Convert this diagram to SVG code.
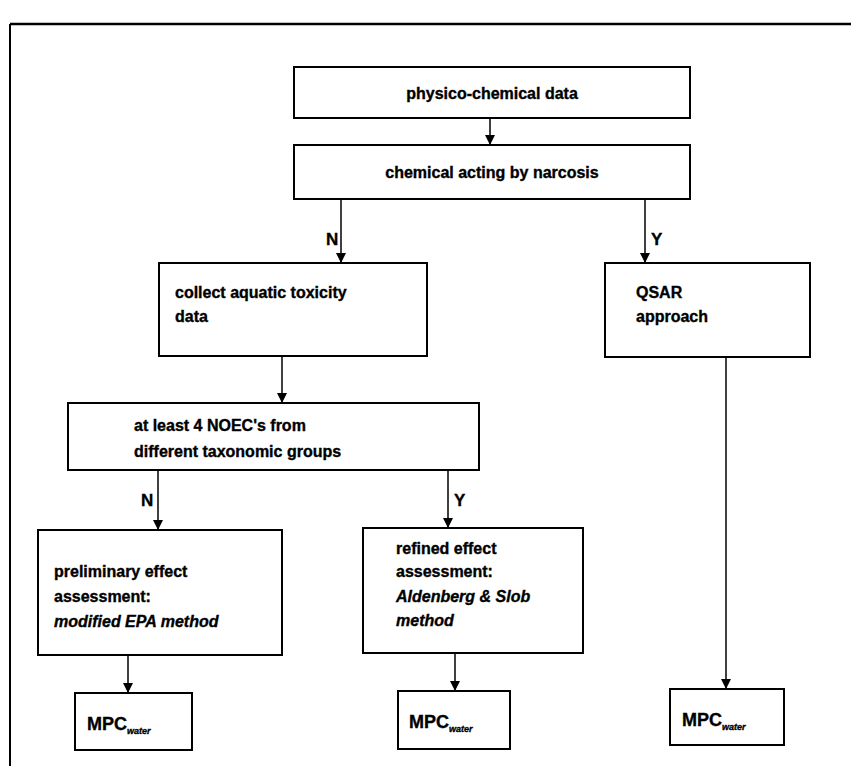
<svg xmlns="http://www.w3.org/2000/svg" width="851" height="766" viewBox="0 0 851 766">
<defs>
<marker id="ah" markerWidth="10" markerHeight="10" refX="10" refY="5" orient="auto" markerUnits="userSpaceOnUse" viewBox="0 0 10 10">
<path d="M0,0 L10,5 L0,10 Z" fill="#000"/>
</marker>
<style>
.box{fill:#fff;stroke:#000;stroke-width:2}
.t{font-family:"Liberation Sans",Arial,sans-serif;font-weight:bold;font-size:16px;fill:#000;stroke:#000;stroke-width:0.35}
.i{font-style:italic}
.c{text-anchor:middle}
.m{font-size:18px}
.sub{font-size:9px;font-style:italic}
.ln{stroke:#000;stroke-width:1.5;fill:none}
.lbl{font-family:"Liberation Sans",Arial,sans-serif;font-weight:bold;font-size:17px;fill:#000;stroke:#000;stroke-width:0.35}
</style>
</defs>
<rect width="851" height="766" fill="#fff"/>
<g id="frame">
<line x1="10" y1="24" x2="851" y2="24" stroke="#000" stroke-width="2.5"/>
<line x1="10" y1="24" x2="10" y2="766" stroke="#000" stroke-width="2"/>
</g>
<g id="connectors">
<line class="ln" x1="490" y1="118" x2="490" y2="145" marker-end="url(#ah)"/>
<line class="ln" x1="341" y1="199" x2="341" y2="263" marker-end="url(#ah)"/>
<line class="ln" x1="645" y1="199" x2="645" y2="263" marker-end="url(#ah)"/>
<line class="ln" x1="282" y1="356" x2="282" y2="403" marker-end="url(#ah)"/>
<line class="ln" x1="158" y1="470" x2="158" y2="530" marker-end="url(#ah)"/>
<line class="ln" x1="448" y1="470" x2="448" y2="528" marker-end="url(#ah)"/>
<line class="ln" x1="128" y1="655" x2="128" y2="693" marker-end="url(#ah)"/>
<line class="ln" x1="455" y1="653" x2="455" y2="691" marker-end="url(#ah)"/>
<line class="ln" x1="726" y1="357" x2="726" y2="689" marker-end="url(#ah)"/>
<text class="lbl" x="326" y="245">N</text>
<text class="lbl" x="651" y="245">Y</text>
<text class="lbl" x="141" y="506">N</text>
<text class="lbl" x="454" y="506">Y</text>
</g>
<g id="n1">
<rect class="box" x="294" y="67" width="396" height="51"/>
<text class="t c" x="492" y="99">physico-chemical data</text>
</g>
<g id="n2">
<rect class="box" x="294" y="145" width="396" height="54"/>
<text class="t c" x="492" y="178">chemical acting by narcosis</text>
</g>
<g id="n3">
<rect class="box" x="159" y="263" width="268" height="93"/>
<text class="t" x="175" y="298">collect aquatic toxicity</text>
<text class="t" x="175" y="322">data</text>
</g>
<g id="n4">
<rect class="box" x="605" y="263" width="205" height="94"/>
<text class="t" x="636" y="298">QSAR</text>
<text class="t" x="636" y="322">approach</text>
</g>
<g id="n5">
<rect class="box" x="68" y="403" width="411" height="67"/>
<text class="t" x="134" y="431">at least 4 NOEC's from</text>
<text class="t" x="134" y="457">different taxonomic groups</text>
</g>
<g id="n6">
<rect class="box" x="38" y="530" width="244" height="125"/>
<text class="t" x="54" y="577">preliminary effect</text>
<text class="t" x="54" y="602">assessment:</text>
<text class="t i" x="54" y="627">modified EPA method</text>
</g>
<g id="n7">
<rect class="box" x="363" y="528" width="220" height="125"/>
<text class="t" x="396" y="554">refined effect</text>
<text class="t" x="396" y="577">assessment:</text>
<text class="t i" x="396" y="602">Aldenberg &amp; Slob</text>
<text class="t i" x="396" y="626">method</text>
</g>
<g id="n8">
<rect class="box" x="75" y="693" width="117" height="57"/>
<text class="t m" x="87" y="730">MPC<tspan class="sub" dy="4">water</tspan></text>
</g>
<g id="n9">
<rect class="box" x="398" y="691" width="112" height="58"/>
<text class="t m" x="409" y="728">MPC<tspan class="sub" dy="4">water</tspan></text>
</g>
<g id="n10">
<rect class="box" x="670" y="689" width="114" height="56"/>
<text class="t m" x="682" y="726">MPC<tspan class="sub" dy="4">water</tspan></text>
</g>
</svg>
